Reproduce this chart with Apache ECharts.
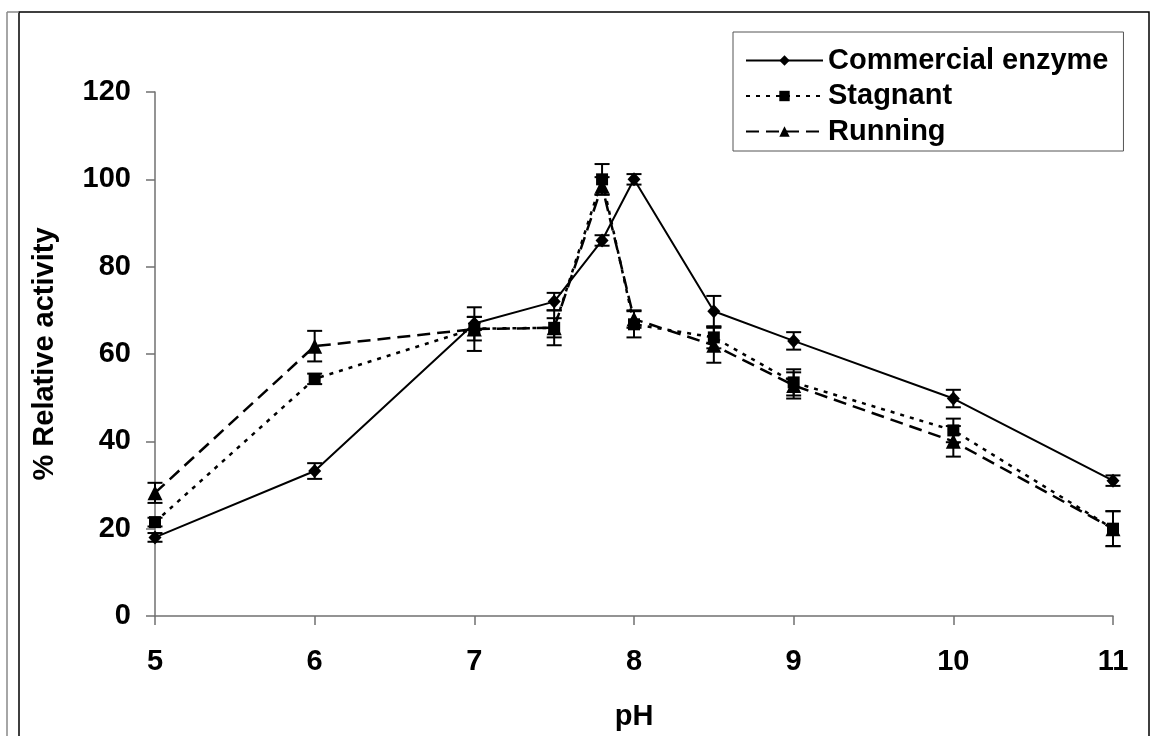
<!DOCTYPE html>
<html>
<head>
<meta charset="utf-8">
<script src="https://cdn.jsdelivr.net/npm/echarts@6/dist/echarts.min.js"></script>
<style>
html,body{margin:0;padding:0;background:#fff;}
#chart{width:1156px;height:736px;}
</style>
</head>
<body>
<div id="chart"></div>
<script>
const pH = [5, 6, 7, 7.5, 7.8, 8, 8.5, 9, 10, 11];
const commercial    = [18, 33.2, 67, 72, 86, 100, 69.8, 63, 49.8, 31];
const commercialErr = [1, 1.8, 1.5, 2, 1.2, 1.2, 3.5, 2, 2, 1.2];
const stagnant      = [21.5, 54.3, 65.8, 66, 100, 66.8, 63.8, 53.5, 42.5, 20];
const stagnantErr   = [1, 1.2, 2.7, 2.2, 3.5, 3, 2.5, 3, 2.7, 4];
const running       = [28.2, 61.8, 65.7, 66, 98.5, 68, 62, 52.8, 40, 20];
const runningErr    = [2.3, 3.5, 5, 4, 2, 2, 4, 3, 3.5, 4];
const xTicks = [5, 6, 7, 8, 9, 10, 11];
const yTicks = [0, 20, 40, 60, 80, 100, 120];
const seriesNames = ['Commercial enzyme', 'Stagnant', 'Running'];

const FONT = "'Liberation Sans', Arial, sans-serif";

function pairs(ys) { return pH.map((x, i) => [x, ys[i]]); }
function errData(ys, es) { return pH.map((x, i) => [x, ys[i] - es[i], ys[i] + es[i]]); }

function errorSeries(ys, es) {
  return {
    type: 'custom',
    data: errData(ys, es),
    z: 2,
    silent: true,
    renderItem: function (params, api) {
      const x = api.value(0);
      const lo = api.coord([x, api.value(1)]);
      const hi = api.coord([x, api.value(2)]);
      const hw = 7.5;
      const st = { stroke: '#000', lineWidth: 2 };
      return {
        type: 'group',
        children: [
          { type: 'line', shape: { x1: lo[0], y1: lo[1], x2: hi[0], y2: hi[1] }, style: st },
          { type: 'line', shape: { x1: lo[0] - hw, y1: lo[1], x2: lo[0] + hw, y2: lo[1] }, style: st },
          { type: 'line', shape: { x1: hi[0] - hw, y1: hi[1], x2: hi[0] + hw, y2: hi[1] }, style: st }
        ]
      };
    },
    encode: { x: 0, y: [1, 2] }
  };
}

const chart = echarts.init(document.getElementById('chart'), null, { renderer: 'canvas' });
chart.setOption({
  animation: false,
  backgroundColor: '#fff',
  textStyle: { fontFamily: FONT },
  grid: { left: 155, right: 43, top: 92, bottom: 120, containLabel: false },
  legend: {
    orient: 'vertical',
    left: 733,
    top: 32,
    width: 389,
    padding: [14, 15, 5, 12],
    itemGap: 6.5,
    itemWidth: 77,
    itemHeight: 13,
    backgroundColor: '#fff',
    borderColor: '#555',
    borderWidth: 1,
    data: seriesNames,
    textStyle: { fontFamily: FONT, fontWeight: 'bold', fontSize: 29, color: '#000', lineHeight: 29 }
  },
  xAxis: {
    type: 'value',
    min: 5, max: 11, interval: 1,
    name: 'pH',
    nameLocation: 'middle',
    nameGap: 86,
    nameTextStyle: { fontFamily: FONT, fontWeight: 'bold', fontSize: 29, color: '#000' },
    axisLine: { lineStyle: { color: '#707070', width: 1.5 } },
    axisTick: { show: true, length: 9, lineStyle: { color: '#707070', width: 1.5 } },
    splitLine: { show: false },
    axisLabel: {
      margin: 31, fontFamily: FONT, fontWeight: 'bold', fontSize: 29, color: '#000',
      customValues: xTicks
    }
  },
  yAxis: {
    type: 'value',
    min: 0, max: 120, interval: 20,
    name: '% Relative activity',
    nameLocation: 'middle',
    nameGap: 96,
    nameTextStyle: { fontFamily: FONT, fontWeight: 'bold', fontSize: 29, color: '#000' },
    axisLine: { show: true, lineStyle: { color: '#707070', width: 1.5 } },
    axisTick: { show: true, length: 9, lineStyle: { color: '#707070', width: 1.5 } },
    splitLine: { show: false },
    axisLabel: { margin: 24, fontFamily: FONT, fontWeight: 'bold', fontSize: 29, color: '#000' }
  },
  graphic: [
    { type: 'line', shape: { x1: 7, y1: 12, x2: 7, y2: 740 }, style: { stroke: '#888', lineWidth: 1.5 } },
    { type: 'line', shape: { x1: 7, y1: 12, x2: 19, y2: 12 }, style: { stroke: '#888', lineWidth: 1.5 } },
    { type: 'rect', shape: { x: 19, y: 12, width: 1130, height: 740 }, style: { fill: 'none', stroke: '#000', lineWidth: 1.5 }, z: -1 }
  ],
  series: [
    errorSeries(running, runningErr),
    errorSeries(stagnant, stagnantErr),
    errorSeries(commercial, commercialErr),
    {
      name: seriesNames[2], type: 'line', data: pairs(running), z: 3,
      symbol: 'triangle', symbolSize: 15,
      itemStyle: { color: '#000' },
      lineStyle: { color: '#000', width: 2.5, type: [13, 7] }
    },
    {
      name: seriesNames[1], type: 'line', data: pairs(stagnant), z: 4,
      symbol: 'rect', symbolSize: 12,
      itemStyle: { color: '#000' },
      lineStyle: { color: '#000', width: 2.5, type: [4, 6] }
    },
    {
      name: seriesNames[0], type: 'line', data: pairs(commercial), z: 5,
      symbol: 'diamond', symbolSize: [13, 14],
      itemStyle: { color: '#000' },
      lineStyle: { color: '#000', width: 2 }
    }
  ]
});
</script>
</body>
</html>
